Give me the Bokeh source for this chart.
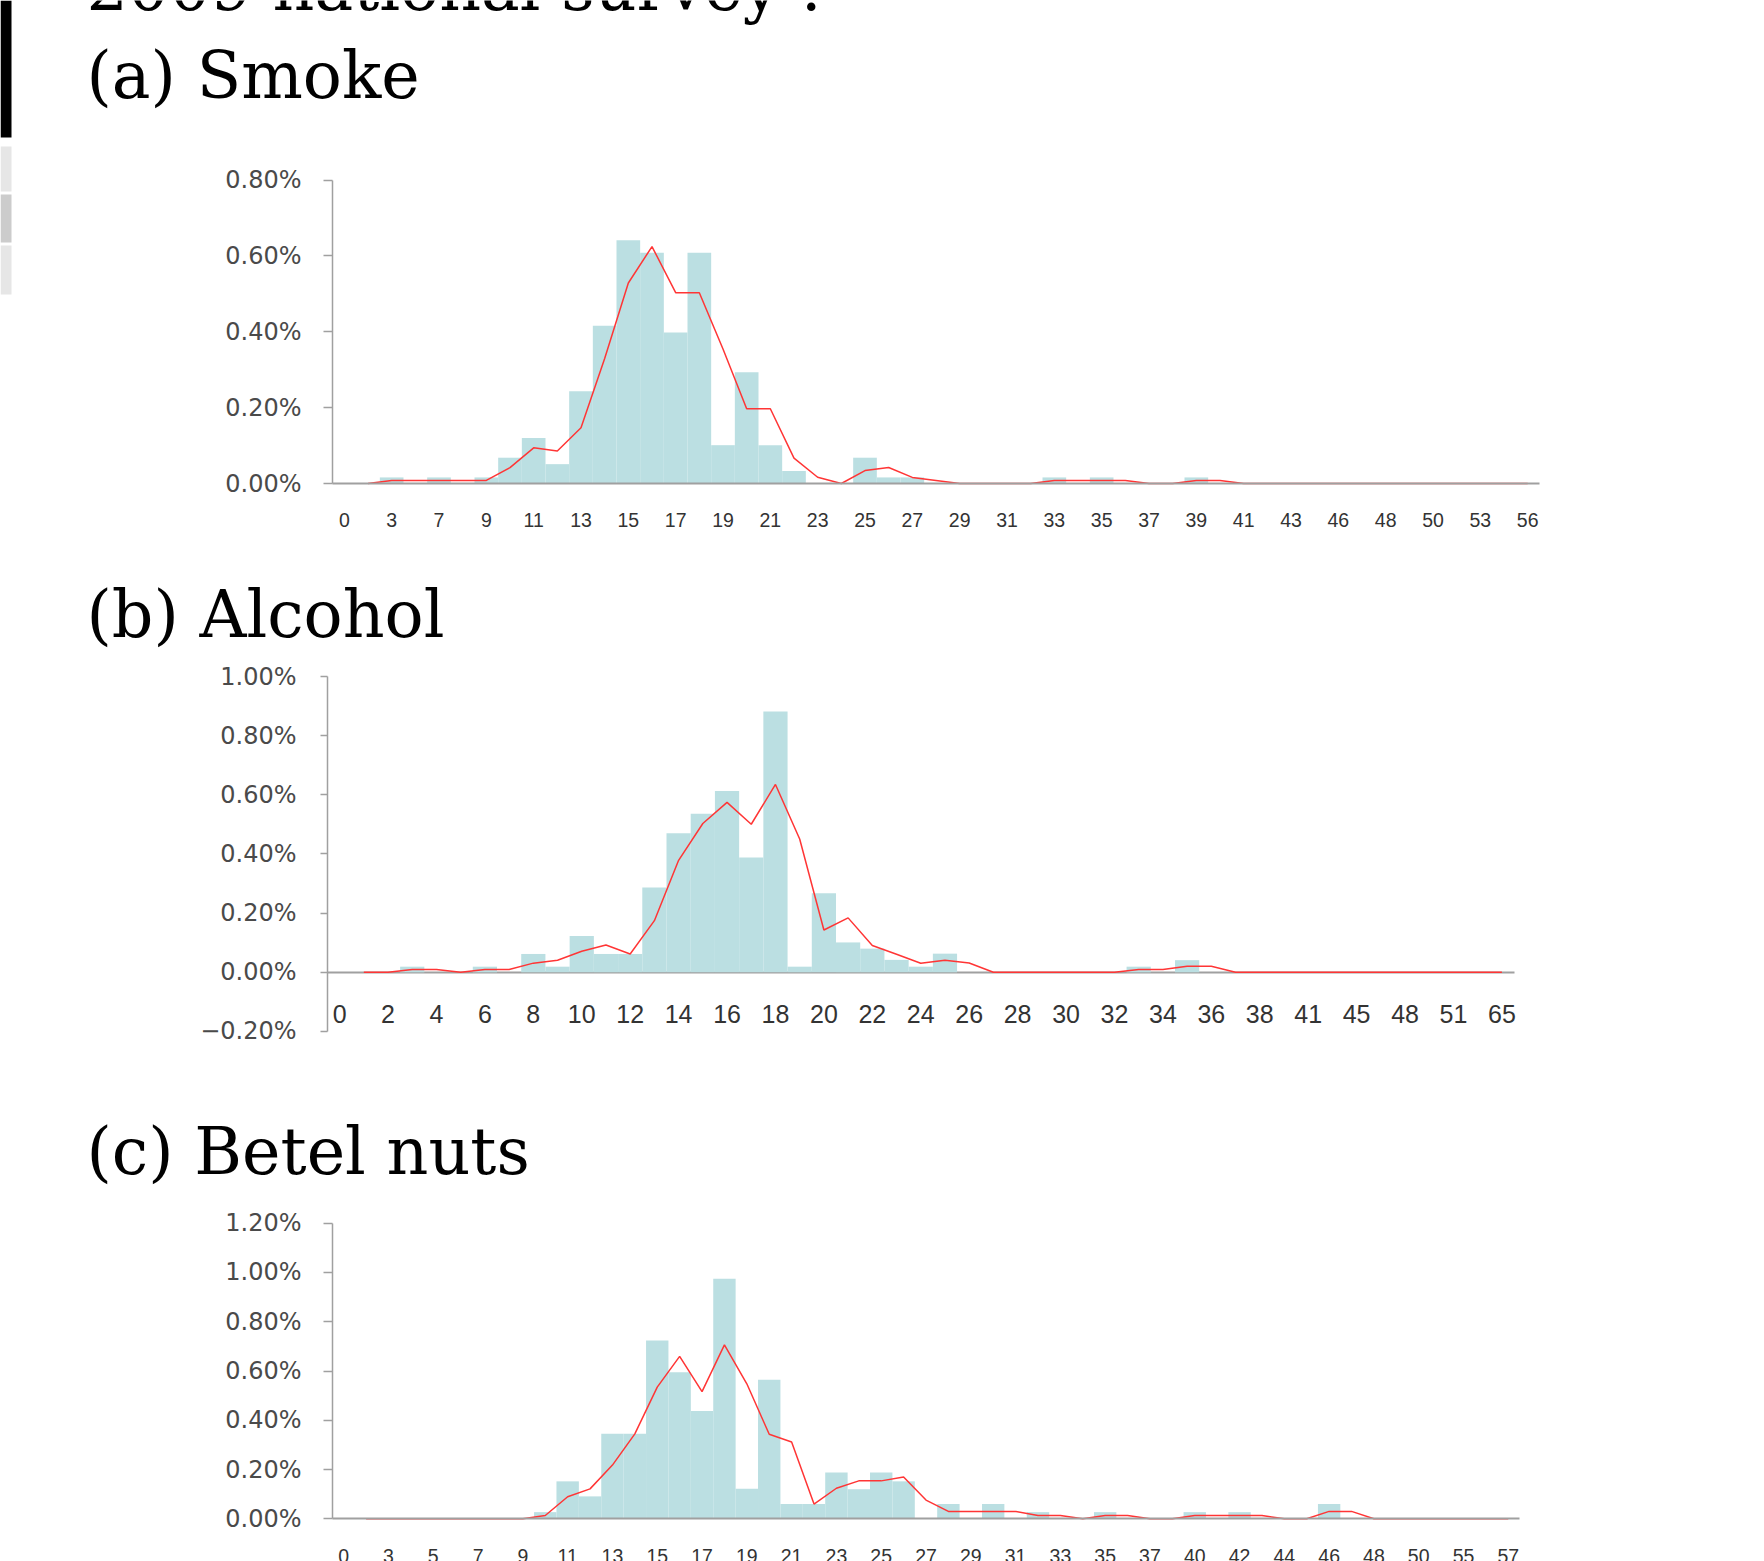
from bokeh.plotting import figure
from bokeh.layouts import column
from bokeh.models import Range1d, FixedTicker, PrintfTickFormatter, Label, BoxAnnotation
from bokeh.embed import file_html
from bokeh.resources import INLINE

# ---------------- data (percent of respondents by age of first use) ----------------
smoke_ages = [0, 2, 3, 5, 7, 8, 9, 10, 11, 12, 13, 14, 15, 16, 17, 18, 19, 20, 21, 22,
              23, 24, 25, 26, 27, 28, 29, 30, 31, 32, 33, 34, 35, 36, 37, 38, 39, 40, 41, 42,
              43, 45, 46, 47, 48, 49, 50, 52, 53, 55, 56]
smoke_pct = [0, 0, 0.016, 0, 0.016, 0, 0.016, 0.068, 0.120, 0.051,
             0.243, 0.416, 0.641, 0.608, 0.398, 0.608, 0.101, 0.293, 0.101, 0.033,
             0, 0, 0.068, 0.016, 0.016, 0, 0, 0, 0, 0,
             0.016, 0, 0.016, 0, 0, 0, 0.016, 0, 0, 0,
             0, 0, 0, 0, 0, 0, 0, 0, 0, 0, 0]

alcohol_ages = [0, 1, 2, 3, 4, 5, 6, 7, 8, 9, 10, 11, 12, 13, 14, 15, 16, 17, 18, 19,
                20, 21, 22, 23, 24, 25, 26, 27, 28, 29, 30, 31, 32, 33, 34, 35, 36, 37, 38,
                40, 41, 43, 45, 46, 48, 50, 51, 55, 65]
alcohol_pct = [0, 0, 0, 0.019, 0, 0, 0.019, 0, 0.062, 0.019,
               0.123, 0.062, 0.062, 0.287, 0.470, 0.536, 0.613, 0.388, 0.882, 0.019,
               0.267, 0.101, 0.080, 0.042, 0.019, 0.063, 0, 0, 0, 0,
               0, 0, 0, 0.019, 0, 0.041, 0, 0, 0, 0,
               0, 0, 0, 0, 0, 0, 0, 0, 0]

betel_ages = [0, 2, 3, 4, 5, 6, 7, 8, 9, 10, 11, 12, 13, 14, 15, 16, 17, 18, 19, 20,
              21, 22, 23, 24, 25, 26, 27, 28, 29, 30, 31, 32, 33, 34, 35, 36, 37, 38,
              40, 41, 42, 43, 44, 45, 46, 47, 48, 49, 50, 52, 55, 56, 57]
betel_pct = [0, 0, 0, 0, 0, 0, 0, 0, 0, 0.027,
             0.152, 0.091, 0.345, 0.345, 0.724, 0.595, 0.438, 0.974, 0.122, 0.564,
             0.060, 0.060, 0.188, 0.120, 0.188, 0.152, 0, 0.060, 0, 0.060,
             0, 0.027, 0, 0, 0.027, 0, 0, 0, 0.027, 0,
             0.027, 0, 0, 0, 0.060, 0, 0, 0, 0, 0, 0, 0, 0]

heading = "2009 national survey :"
titles = ["(a) Smoke", "(b) Alcohol", "(c) Betel nuts"]

smoke_yticks = [0, 0.2, 0.4, 0.6, 0.8]
alcohol_yticks = [-0.2, 0, 0.2, 0.4, 0.6, 0.8, 1.0]
betel_yticks = [0, 0.2, 0.4, 0.6, 0.8, 1.0, 1.2]

BAR = "#bbdfe2"
RED = "#ff3535"
AXIS = "#a0a0a0"
LABEL = "#4a4a4a"
W = 1764


def make_chart(ages, pct, yticks, *, page_top, page_bottom, px_left, px_right,
               px_ytop, px_zero, tick_out, ylab_standoff, xlab_size, xlab_standoff,
               red_over_zero):
    """One panel whose frame covers the whole canvas; axes are placed inside it."""
    n = len(ages)
    idx = list(range(n))
    height = page_bottom - page_top
    c = (px_right - px_left) / n                      # pixels per category
    x_start = -0.5 - px_left / c
    x_end = n - 0.5 + (W - px_right) / c
    k = (px_zero - px_ytop) / yticks[-1]              # pixels per percent
    y_end = (px_zero - page_top) / k
    y_start = -(page_bottom - px_zero) / k

    p = figure(width=W, height=height, output_backend="svg", toolbar_location=None,
               title=None, x_range=Range1d(x_start, x_end), y_range=Range1d(y_start, y_end),
               min_border=0)
    p.outline_line_color = None
    p.xgrid.visible = False
    p.ygrid.visible = False
    p.background_fill_color = "white"
    p.border_fill_color = "white"

    p.vbar(x=idx, top=pct, width=1.0, fill_color=BAR, line_color=None)
    # 2-period moving-average trend line (as in the original spreadsheet chart)
    ma = [(pct[i - 1] + pct[i]) / 2 for i in range(1, n)]
    p.line(x=idx[1:], y=ma, line_color=RED, line_width=1.5)

    yax = p.yaxis[0]
    yax.fixed_location = -0.5
    yax.bounds = (yticks[0], yticks[-1])
    yax.ticker = FixedTicker(ticks=yticks)
    yax.formatter = PrintfTickFormatter(format="%.2f%%")
    yax.major_label_overrides = {t: "\u2212%.2f%%" % abs(t) for t in yticks if t < 0}
    yax.axis_line_color = AXIS
    yax.axis_line_width = 1.5
    yax.major_tick_line_color = AXIS
    yax.major_tick_line_width = 1.5
    yax.major_tick_out = tick_out
    yax.major_tick_in = 0
    yax.minor_tick_line_color = None
    yax.major_label_text_font = "DejaVu Sans"
    yax.major_label_text_font_size = "24px"
    yax.major_label_text_color = LABEL
    yax.major_label_standoff = ylab_standoff

    xax = p.xaxis[0]
    xax.fixed_location = 0
    xax.bounds = (-0.5, n - 0.5)
    xax.ticker = FixedTicker(ticks=idx[::2])
    xax.major_label_overrides = {i: str(ages[i]) for i in idx[::2]}
    xax.axis_line_color = AXIS
    xax.axis_line_width = 2
    if red_over_zero:
        xax.level = "underlay"
    xax.major_tick_line_color = None
    xax.major_tick_out = 0
    xax.major_tick_in = 0
    xax.minor_tick_line_color = None
    xax.major_label_text_font = "Liberation Sans"
    xax.major_label_text_font_size = xlab_size
    xax.major_label_text_color = "#333333"
    xax.major_label_standoff = xlab_standoff
    return p, height


def add_title(p, height, text, x_px, y_px):
    p.add_layout(Label(x=x_px, y=height - y_px, x_units="screen", y_units="screen",
                       text=text, text_font="DejaVu Serif", text_font_size="65px",
                       text_color="black", text_baseline="alphabetic", text_align="left"))


# (a) Smoke: canvas rows 0..560
pa, ha = make_chart(smoke_ages, smoke_pct, smoke_yticks, page_top=0, page_bottom=560,
                    px_left=332, px_right=1539, px_ytop=179.5, px_zero=483,
                    tick_out=9, ylab_standoff=22, xlab_size="19.5px", xlab_standoff=29,
                    red_over_zero=False)
add_title(pa, ha, heading, 86, -13)
add_title(pa, ha, titles[0], 86, 75)
for top, bot, col in [(0, 137, "black"), (146, 191, "#e6e6e6"), (194, 242, "#cccccc"),
                      (245, 294, "#e6e6e6")]:
    pa.add_layout(BoxAnnotation(left=0, right=11, top=ha - top, bottom=ha - bot,
                                left_units="screen", right_units="screen",
                                top_units="screen", bottom_units="screen",
                                fill_color=col, fill_alpha=1.0, line_color=None))

# (b) Alcohol: canvas rows 560..1100
pb, hb = make_chart(alcohol_ages, alcohol_pct, alcohol_yticks, page_top=560, page_bottom=1100,
                    px_left=327, px_right=1513.5, px_ytop=676, px_zero=971.8,
                    tick_out=7, ylab_standoff=24, xlab_size="25px", xlab_standoff=33,
                    red_over_zero=True)
add_title(pb, hb, titles[1], 86, 614 - 560)

# (c) Betel nuts: canvas rows 1100..1561
pc, hc = make_chart(betel_ages, betel_pct, betel_yticks, page_top=1100, page_bottom=1561,
                    px_left=332, px_right=1519, px_ytop=1222.7, px_zero=1518.3,
                    tick_out=9, ylab_standoff=22, xlab_size="19.5px", xlab_standoff=30,
                    red_over_zero=False)
add_title(pc, hc, titles[2], 86, 1151 - 1100)

layout = column(pa, pb, pc, spacing=0)
open("out.html", "w").write(file_html(layout, INLINE))
